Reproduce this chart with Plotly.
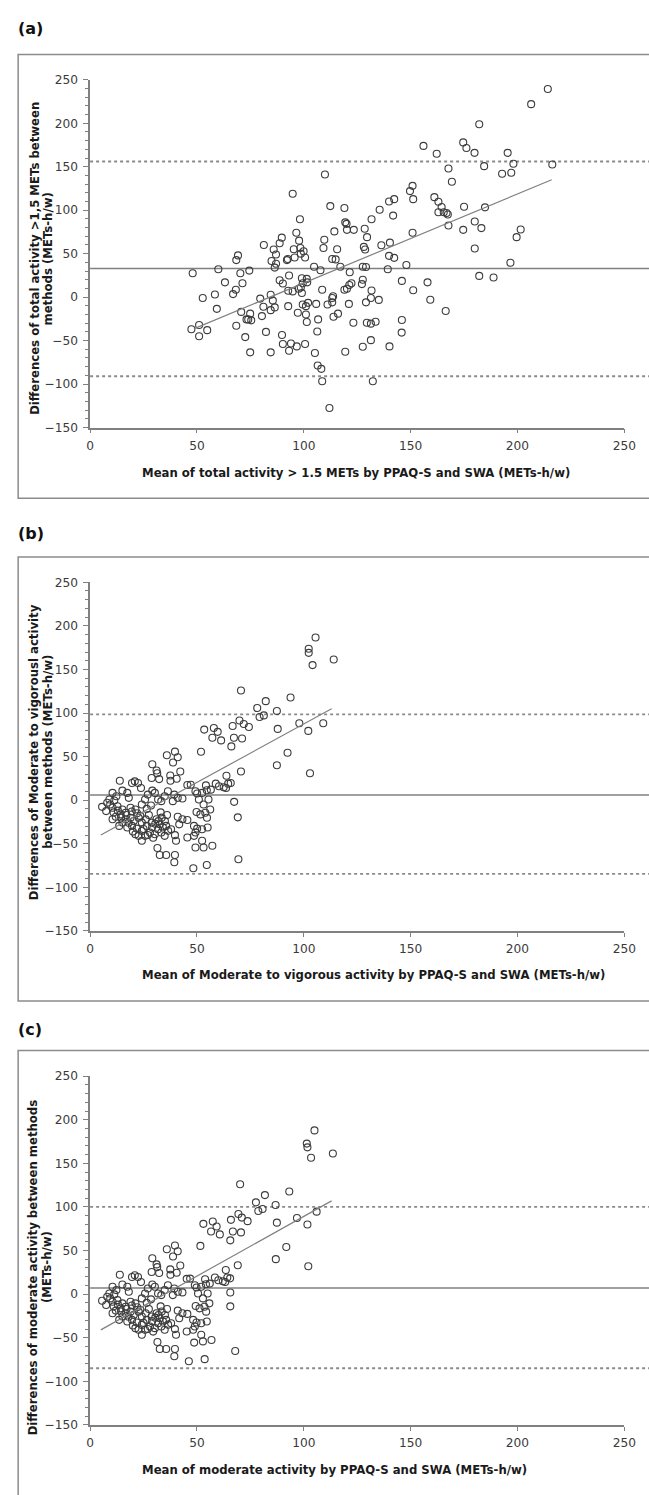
import plotly.graph_objects as go

W, H = 649, 1495

# ---------------- data ----------------
x_ticks = [0, 50, 100, 150, 200, 250]
y_ticks = [-150, -100, -50, 0, 50, 100, 150, 200, 250]

# Panel (a): total activity > 1.5 METs
a_x = [48.0, 47.4, 51.0, 51.0, 52.7, 54.8, 60.0, 58.4, 59.3, 63.1,
       66.9, 68.2, 68.4, 69.2, 68.4, 70.3, 71.3, 70.7, 72.6, 73.2,
       74.0, 74.5, 74.9, 74.9, 75.4, 79.6, 80.4, 81.3, 81.1, 82.3,
       84.5, 84.5, 84.9, 85.9, 86.4, 87.0, 87.0, 84.5, 86.4, 85.5,
       88.7, 89.7, 88.7, 90.2, 89.8, 90.2, 92.1, 92.5, 93.1, 92.7,
       92.7, 93.1, 94.0, 94.8, 94.8, 95.3, 95.7, 96.5, 96.7, 97.2,
       97.6, 98.2, 97.8, 98.4, 98.6, 99.1, 99.1, 98.6, 99.5, 99.9,
       100.6, 99.5, 100.6, 101.0, 101.0, 101.4, 102.0, 101.4, 101.6, 104.8,
       105.2, 105.8, 106.3, 106.7, 106.5, 108.2, 108.6, 107.8, 108.6, 109.6,
       109.2, 109.9, 111.1, 112.4, 112.0, 113.3, 113.3, 113.3, 113.7, 113.9,
       114.3, 114.9, 115.6, 116.0, 117.1, 119.0, 119.4, 120.0, 120.2, 119.0,
       120.2, 121.5, 121.1, 119.4, 121.3, 122.3, 123.2, 123.4, 127.6, 127.2,
       127.6, 127.6, 128.1, 128.5, 128.7, 129.1, 129.1, 129.6, 129.5, 131.4,
       131.7, 131.4, 131.7, 131.4, 132.3, 133.6, 135.1, 135.5, 136.3, 139.3,
       139.9, 140.1, 140.3, 139.9, 141.8, 142.3, 142.3, 145.9, 145.9, 145.8,
       148.0, 149.7, 150.9, 151.2, 150.9, 151.2, 156.0, 157.9, 159.2, 161.1,
       162.2, 163.0, 163.0, 164.5, 165.5, 166.4, 166.8, 167.4, 167.7, 167.7,
       169.3, 174.6, 175.0, 174.6, 176.1, 179.9, 180.0, 180.0, 182.1, 183.1,
       182.1, 184.4, 184.8, 188.8, 192.8, 195.4, 196.7, 197.1, 198.1, 199.6,
       201.5, 206.4, 214.2, 216.3]
a_y = [27.5, -37, -32, -45, -1, -38, 32, 3, -13.5, 17,
       3.5, 8.5, -33, 48, 42.6, 27.5, 16, -17, -46, -25.6,
       -25.6, 30.5, -63.5, -19, -26.7, -1.7, -21.8, 60, -11, -40,
       2.8, -15, 41.5, 54.8, 34, 38.4, 49, -63.5, -11.8, -4,
       62, 68.4, 19.5, 15.6, -43.5, -54, 42.6, 43.8, 24.8, -10.4,
       7.4, -61.6, -53.3, 119, 6.6, 55, 45.6, 74, -56.7, -18,
       9.6, 89.6, 65, 56.6, 50, 21.8, 4.7, 11, -8.5, 52.8,
       45.6, 16, -54, -10.4, -20, -28.6, -6.6, 21, 17, 35,
       -64.3, -7.8, -39.6, -25.6, -78.7, -82.5, -96.8, 31, 8.5, 66,
       56.6, 141, -8.5, 104.7, -127.5, 43.8, -1, -6, 1, -22.6,
       75.6, 43.4, 55, -19, 35, 102.5, 86, 84.3, 77.4, 8.5,
       9.6, 28.6, -7.8, -62.8, 14, 16, -29.4, 77.4, -57, 15,
       20, 35, 57.8, 78.6, 54.8, 34.7, -6, 69, -29.4, -49.5,
       89.6, -30.5, 7.7, -1, -96.8, -28.3, -3.2, 100.6, 59.7, 32,
       110, -56.7, 62.7, 47.5, 93.8, 45.2, 112.7, 18.7, -26.3, -40.8,
       37, 122, 128, 112.7, 74, 8, 174, 17, -3, 115,
       165, 109.7, 97.6, 103.6, 97.6, -16, 96.8, 95, 148, 82.4,
       132.8, 178, 104, 77.4, 171.5, 166, 87, 56, 198.8, 79.4,
       24.4, 150.7, 103.3, 22.5, 142, 166, 39.6, 143, 153.4, 69,
       77.8, 222, 239.4, 152.6]
a_mean, a_upper, a_lower = 33, 156, -91
a_fit_x = [49, 216]
a_fit_y = [-36, 135]

# Panel (b): moderate to vigorous activity
b_upper_x = [105.5, 102.3, 102.3, 104.1, 114.0, 70.6, 93.8, 82.2, 78.2, 87.4,
             79.3, 81.3, 97.9, 109.1, 102.1, 87.8, 69.9, 71.9, 74.3, 66.7,
             53.4, 57.9, 59.7, 57.2, 61.3, 67.3, 71.1, 66.1, 51.9, 92.4,
             87.4, 102.9, 70.6, 63.8, 67.4, 69.1, 69.4, 58.8, 60.3, 62.5,
             64.6, 63.6, 65.8]
b_upper_y = [186.7, 173.7, 169.0, 155.0, 161.4, 125.8, 117.8, 113.6, 105.7, 102.3,
             95.4, 97.3, 88.3, 88.3, 79.5, 81.8, 91.5, 87.4, 84.0, 85.2,
             81.0, 82.8, 78.4, 71.6, 68.6, 71.6, 70.8, 61.7, 55.6, 54.5,
             40.1, 31.0, 32.9, 28.0, -1.9, -19.7, -67.8, 19.0, 16.0, 14.8,
             19.0, 14.0, 19.7]
b_cluster_x = [35.9, 39.7, 41.0, 38.8, 29.1, 31.1, 31.4, 32.3, 28.8, 37.5,
               37.6, 40.5, 42.2, 13.9, 19.6, 20.9, 22.4, 23.8, 15.1, 17.4,
               18.1, 10.5, 12.3, 9.0, 11.3, 5.6, 7.5, 9.4, 10.5, 12.8,
               15.1, 14.3, 12.0, 10.5, 16.6, 18.9, 21.2, 24.2, 25.7, 27.0,
               29.1, 31.8, 34.9, 36.4, 33.3, 38.7, 41.0, 43.2, 39.4, 30.3,
               16.6, 18.9, 20.4, 22.7, 24.2, 15.1, 13.6, 17.4, 19.6, 21.9,
               24.2, 26.5, 28.8, 31.1, 32.6, 34.1, 35.6, 31.8, 33.3, 34.9,
               30.3, 28.0, 21.2, 22.7, 24.2, 25.7, 37.9, 39.7, 40.2, 41.0,
               43.2, 45.5, 41.7, 31.5, 32.6, 35.6, 39.7, 39.4, 48.3, 54.6,
               13.0, 14.5, 17.0, 19.5, 22.0, 23.5, 26.0, 27.5, 29.0, 30.5,
               32.0, 33.5, 35.0, 36.5, 27.0, 29.5, 25.0, 20.0, 18.0, 11.0,
               8.0, 26.5, 28.5, 33.0, 36.0]
b_cluster_y = [51.5, 55.7, 49.2, 43.2, 41.2, 34.1, 31.0, 24.2, 25.4, 28.4,
               22.3, 24.6, 32.9, 22.3, 19.7, 21.6, 19.7, 14.0, 11.0, 8.4,
               2.7, 8.4, 4.6, 0.8, -0.3, -7.6, -12.5, -4.9, -8.7, -6.9,
               -10.6, -16.3, -18.9, -21.9, -14.4, -8.7, -10.6, -4.9, 0.8, 6.4,
               11.0, 0.8, 4.6, 10.2, -1.1, -1.1, 2.7, 2.0, 6.4, 8.4,
               -21.9, -20.1, -23.8, -20.1, -25.7, -25.7, -29.5, -31.4, -29.5, -32.6,
               -35.3, -29.5, -25.7, -21.9, -27.7, -31.4, -29.5, -33.4, -37.1, -40.9,
               -39.0, -37.1, -39.0, -40.9, -46.6, -40.9, -33.4, -40.1, -46.6, -18.9,
               -21.9, -22.7, -27.7, -54.9, -62.9, -62.9, -62.9, -71.2, -78.0, -74.3,
               -12.0, -20.0, -17.0, -13.0, -15.0, -18.0, -22.0, -17.0, -31.0, -27.0,
               -24.0, -20.0, -24.0, -35.0, -40.0, -43.0, -33.0, -36.0, -26.0, -14.0,
               -3.0, -10.0, -6.0, -14.0, -17.0]
b_mid_x = [49.3, 50.1, 52.4, 54.6, 56.5, 47.1, 50.9, 53.1, 55.4, 56.2,
           53.9, 51.6, 54.7, 48.6, 50.1, 49.3, 52.4, 55.0, 48.6, 45.5,
           52.4, 49.3, 53.1, 57.2, 49.8, 54.2, 45.5]
b_mid_y = [10.2, 7.6, 8.4, 11.4, 12.1, 17.8, 0.8, -4.9, 0.8, -10.6,
           -14.4, -16.3, -20.1, -29.5, -32.6, -37.1, -33.4, -31.4, -40.9, -42.8,
           -46.6, -54.2, -54.2, -52.3, -13.6, 17.0, 17.5]
b_mean, b_upper, b_lower = 6, 98.5, -84.5
b_fit_x = [5, 113]
b_fit_y = [-40, 105]

# Panel (c): moderate activity
c_upper_x = [105.0, 101.4, 101.7, 103.4, 113.6, 70.2, 93.2, 81.8, 77.6, 86.8,
             78.7, 80.7, 96.8, 106.0, 101.7, 87.4, 69.4, 71.0, 73.7, 65.9,
             53.0, 57.4, 59.2, 56.6, 60.7, 66.8, 70.6, 65.6, 51.6, 91.8,
             86.9, 102.1, 69.1, 63.5, 65.6, 65.6, 67.9, 58.4, 60.0, 62.1,
             64.2, 63.2, 65.5]
c_upper_y = [187.8, 172.7, 168.4, 156.4, 161.3, 126.0, 117.8, 113.6, 105.3, 102.2,
             95.4, 97.7, 87.4, 94.6, 79.9, 82.0, 91.9, 87.8, 83.7, 85.2,
             80.6, 83.3, 77.6, 71.9, 68.5, 71.9, 70.8, 61.7, 55.3, 54.1,
             40.1, 32.0, 33.1, 27.6, 1.9, -14.0, -65.2, 19.0, 16.0, 14.8,
             19.0, 14.0, 18.1]
c_cluster_x = [35.9, 39.7, 41.0, 38.8, 29.1, 31.1, 31.4, 32.3, 28.8, 37.5,
               37.6, 40.5, 42.2, 13.9, 19.6, 20.9, 22.4, 23.8, 15.1, 17.4,
               18.1, 10.5, 12.3, 9.0, 11.3, 5.6, 7.5, 9.4, 10.5, 12.8,
               15.1, 14.3, 12.0, 10.5, 16.6, 18.9, 21.2, 24.2, 25.7, 27.0,
               29.1, 31.8, 34.9, 36.4, 33.3, 38.7, 41.0, 43.2, 39.4, 30.3,
               16.6, 18.9, 20.4, 22.7, 24.2, 15.1, 13.6, 17.4, 19.6, 21.9,
               24.2, 26.5, 28.8, 31.1, 32.6, 34.1, 35.6, 31.8, 33.3, 34.9,
               30.3, 28.0, 21.2, 22.7, 24.2, 25.7, 37.9, 39.7, 40.2, 41.0,
               43.2, 45.5, 41.7, 31.5, 32.6, 35.6, 39.7, 39.4, 46.2, 53.6,
               13.0, 14.5, 17.0, 19.5, 22.0, 23.5, 26.0, 27.5, 29.0, 30.5,
               32.0, 33.5, 35.0, 36.5, 27.0, 29.5, 25.0, 20.0, 18.0, 11.0,
               8.0, 26.5, 28.5, 33.0, 36.0]
c_cluster_y = [51.5, 55.7, 49.2, 43.2, 41.2, 34.1, 31.0, 24.2, 25.4, 28.4,
               22.3, 24.6, 32.9, 22.3, 19.7, 21.6, 19.7, 14.0, 11.0, 8.4,
               2.7, 8.4, 4.6, 0.8, -0.3, -7.6, -12.5, -4.9, -8.7, -6.9,
               -10.6, -16.3, -18.9, -21.9, -14.4, -8.7, -10.6, -4.9, 0.8, 6.4,
               11.0, 0.8, 4.6, 10.2, -1.1, -1.1, 2.7, 2.0, 6.4, 8.4,
               -21.9, -20.1, -23.8, -20.1, -25.7, -25.7, -29.5, -31.4, -29.5, -32.6,
               -35.3, -29.5, -25.7, -21.9, -27.7, -31.4, -29.5, -33.4, -37.1, -40.9,
               -39.0, -37.1, -39.0, -40.9, -46.6, -40.9, -33.4, -40.1, -46.6, -18.9,
               -21.9, -22.7, -27.7, -54.9, -62.9, -62.9, -62.9, -71.2, -77.0, -74.6,
               -12.0, -20.0, -17.0, -13.0, -15.0, -18.0, -22.0, -17.0, -31.0, -27.0,
               -24.0, -20.0, -24.0, -35.0, -40.0, -43.0, -33.0, -36.0, -26.0, -14.0,
               -3.0, -10.0, -6.0, -14.0, -17.0]
c_mid_x = [49.0, 49.8, 52.0, 54.2, 56.0, 46.8, 50.5, 52.8, 55.0, 55.8,
           53.5, 51.2, 54.3, 48.2, 49.8, 49.0, 52.0, 54.6, 48.2, 45.2,
           52.0, 48.7, 52.8, 56.8, 49.4, 53.8, 45.2]
c_mid_y = [10.2, 7.6, 8.4, 11.4, 12.1, 17.8, 0.8, -4.9, 0.8, -10.6,
           -14.4, -16.3, -20.1, -29.5, -32.6, -37.1, -33.4, -31.4, -40.9, -42.8,
           -46.6, -55.6, -54.2, -52.6, -13.6, 17.0, 17.5]
c_mean, c_upper, c_lower = 7, 100, -85
c_fit_x = [5, 113]
c_fit_y = [-41, 107]

# ---------------- layout geometry (pixels) ----------------
X0_PX, X1_PX = 88.3, 636.0
GRAY = "#808080"
DOT = "#8a8a8a"
MARK = "#3c3c3c"
FONT = "DejaVu Sans, Liberation Sans, Arial, sans-serif"

panels = [
    dict(label="(a)", label_y=21.7, box_top=48, box_bot=496,
         y_top=73.5, y_bot=424.5,
         xs=[a_x], ys=[a_y], mean=a_mean, upper=a_upper, lower=a_lower,
         fit_x=a_fit_x, fit_y=a_fit_y,
         ytitle=["Differences of total activity &gt;1,5 METs between",
                 "methods (METs-h/w)"],
         ytitle_y=254, ytitle_x=[31, 45],
         xtitle="Mean of total activity &gt; 1.5 METs by PPAQ-S and SWA (METs-h/w)",
         xtitle_y=470.7),
    dict(label="(b)", label_y=531.7, box_top=555.3, box_bot=1003.3,
         y_top=580.7, y_bot=932.7,
         xs=[b_upper_x, b_cluster_x, b_mid_x], ys=[b_upper_y, b_cluster_y, b_mid_y],
         mean=b_mean, upper=b_upper, lower=b_lower,
         fit_x=b_fit_x, fit_y=b_fit_y,
         ytitle=["Differences of Moderate to vigorousl activity",
                 "between methods (METs-h/w)"],
         ytitle_y=752, ytitle_x=[31, 45],
         xtitle="Mean of Moderate to vigorous activity by PPAQ-S and SWA (METs-h/w)",
         xtitle_y=977.3),
    dict(label="(c)", label_y=1031.7, box_top=1053.3, box_bot=1520,
         y_top=1079.3, y_bot=1431.3,
         xs=[c_upper_x, c_cluster_x, c_mid_x], ys=[c_upper_y, c_cluster_y, c_mid_y],
         mean=c_mean, upper=c_upper, lower=c_lower,
         fit_x=c_fit_x, fit_y=c_fit_y,
         ytitle=["Differences of moderate activity between methods",
                 "(METs-h/w)"],
         ytitle_y=1272, ytitle_x=[30, 44],
         xtitle="Mean of moderate activity by PPAQ-S and SWA (METs-h/w)",
         xtitle_y=1476.7),
]


def px_x(v):
    return v / W


def px_y(v):
    return 1 - v / H


fig = go.Figure()
shapes = []
annotations = []
layout_axes = {}

for i, p in enumerate(panels, start=1):
    sfx = "" if i == 1 else str(i)
    xa, ya = "x" + sfx, "y" + sfx

    for xs, ys in zip(p["xs"], p["ys"]):
        fig.add_trace(go.Scatter(
            x=xs, y=ys, mode="markers", xaxis=xa, yaxis=ya,
            marker=dict(symbol="circle-open", size=7, color=MARK,
                        line=dict(width=1.1, color=MARK)),
            showlegend=False, hoverinfo="skip", cliponaxis=False))

    fig.add_trace(go.Scatter(
        x=p["fit_x"], y=p["fit_y"], mode="lines", xaxis=xa, yaxis=ya,
        line=dict(color=GRAY, width=1.2), showlegend=False, hoverinfo="skip"))

    layout_axes["xaxis" + sfx] = dict(
        domain=[px_x(X0_PX), px_x(X1_PX)], anchor=ya, range=[0, 250],
        tickvals=x_ticks, ticks="outside", ticklen=4, tickwidth=1, tickcolor=GRAY,
        showline=True, linecolor=GRAY, linewidth=1.5, showgrid=False, zeroline=False,
        ticklabelstandoff=2,
        tickfont=dict(family=FONT, size=12.2, color="#3a3a3a"), fixedrange=True)
    layout_axes["yaxis" + sfx] = dict(
        domain=[px_y(p["y_bot"]), px_y(p["y_top"])], anchor=xa, range=[-150, 250],
        tickvals=y_ticks, ticks="outside", ticklen=5, tickwidth=1, tickcolor=GRAY,
        minor=dict(dtick=10, ticks="outside", ticklen=3, tickcolor=GRAY, tickwidth=1),
        showline=True, linecolor=GRAY, linewidth=1.5, showgrid=False, zeroline=False,
        ticklabelstandoff=3,
        tickfont=dict(family=FONT, size=12.2, color="#3a3a3a"), fixedrange=True)

    # panel frame (extends past right edge)
    shapes.append(dict(type="rect", xref="paper", yref="paper",
                       x0=px_x(14.5), x1=1.05, y0=px_y(p["box_bot"]), y1=px_y(p["box_top"]),
                       line=dict(color="#8c8c8c", width=1.5), fillcolor="rgba(0,0,0,0)"))
    # mean and limits of agreement
    for val, dash, col, wd in [(p["mean"], "solid", GRAY, 1.6),
                               (p["upper"], "dot", DOT, 1.8),
                               (p["lower"], "dot", DOT, 1.8)]:
        shapes.append(dict(type="line", xref="paper", yref=ya,
                           x0=px_x(X0_PX), x1=1.05, y0=val, y1=val,
                           line=dict(color=col, width=wd, dash=dash), layer="below"))

    annotations.append(dict(text="<b>" + p["label"] + "</b>", xref="paper", yref="paper",
                            x=px_x(12), y=px_y(p["label_y"]), xanchor="left", yanchor="middle",
                            showarrow=False, font=dict(family=FONT, size=16, color="#111")))
    for line_txt, lx in zip(p["ytitle"], p["ytitle_x"]):
        annotations.append(dict(text="<b>" + line_txt + "</b>", xref="paper", yref="paper",
                                x=px_x(lx), y=px_y(p["ytitle_y"]), xanchor="center",
                                yanchor="middle", textangle=-90, showarrow=False,
                                font=dict(family=FONT, size=11.7, color="#1a1a1a")))
    annotations.append(dict(text="<b>" + p["xtitle"] + "</b>", xref="paper", yref="paper",
                            x=px_x(139), y=px_y(p["xtitle_y"]), xanchor="left", yanchor="middle",
                            showarrow=False, font=dict(family=FONT, size=11.7, color="#1a1a1a")))

fig.update_layout(
    width=W, height=H, autosize=False,
    margin=dict(l=0, r=0, t=0, b=0),
    paper_bgcolor="white", plot_bgcolor="white",
    shapes=shapes, annotations=annotations, showlegend=False,
    **layout_axes)

fig.write_html("out.html", config=dict(displayModeBar=False))
